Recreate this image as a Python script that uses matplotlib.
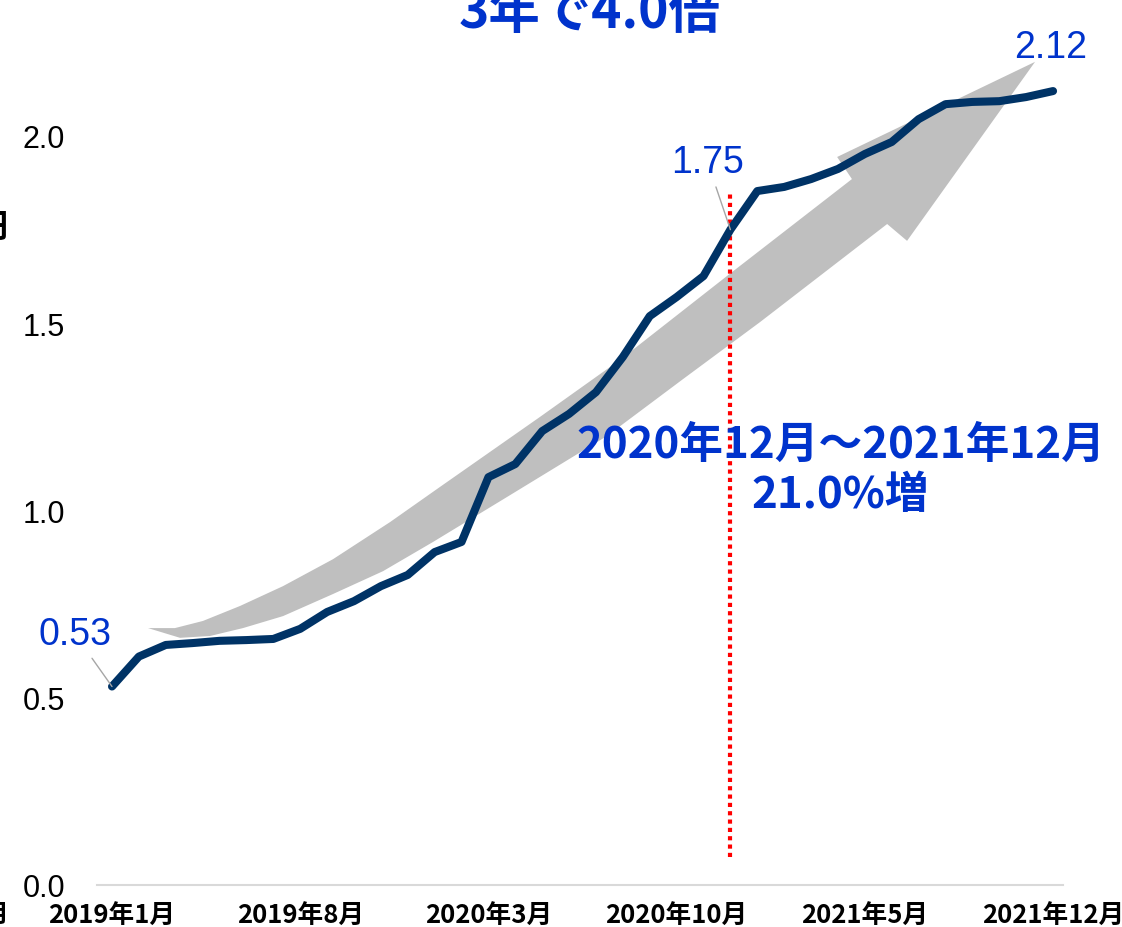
import matplotlib.pyplot as plt
from matplotlib.patches import Polygon

# monthly values, 2019-01 .. 2021-12
months = list(range(36))
values = [0.53, 0.61, 0.641, 0.646, 0.652, 0.654, 0.657, 0.684, 0.729, 0.758,
          0.798, 0.828, 0.889, 0.916, 1.089, 1.124, 1.212, 1.258, 1.316, 1.41,
          1.519, 1.57, 1.626, 1.75, 1.853, 1.864, 1.885, 1.912, 1.952, 1.984,
          2.045, 2.085, 2.091, 2.093, 2.104, 2.12]
tick_pos = [0, 7, 14, 21, 28, 35]
tick_labels = ['2019年1月', '2019年8月', '2020年3月', '2020年10月', '2021年5月', '2021年12月']
yticks = [0.0, 0.5, 1.0, 1.5, 2.0]
mark_month = 23  # 2020年12月

# decorative trend arrow outline (month, value)
arrow_upper = [(1.34, 0.686), (2.34, 0.686), (3.38, 0.705), (4.76, 0.745), (6.36, 0.798),
               (8.22, 0.870), (10.34, 0.969), (12.20, 1.063), (15.92, 1.250),
               (18.89, 1.402), (22.87, 1.626), (27.52, 1.885)]
arrow_head = [(26.97, 1.944), (34.33, 2.198), (29.57, 1.720), (28.83, 1.765)]
arrow_lower = [(24.10, 1.503), (21.24, 1.351), (18.41, 1.199), (14.69, 1.036),
               (11.94, 0.916), (10.08, 0.838), (8.22, 0.777), (6.36, 0.718),
               (4.87, 0.686), (3.65, 0.665), (2.53, 0.660)]

blue = '#0033cc'
navy = '#003366'
jp = ['Noto Sans CJK JP', 'DejaVu Sans']
num = ['Liberation Sans', 'DejaVu Sans']

fig = plt.figure(figsize=(11.22, 9.28), dpi=100)
W, H = 1122, 928
ax = fig.add_axes([97 / W, (H - 886) / H, (1063 - 97) / W, (886 - 25) / H])

ax.add_patch(Polygon(arrow_upper + arrow_head + arrow_lower, closed=True,
                     facecolor='#bfbfbf', edgecolor='none', zorder=1))

ax.plot(months, values, color=navy, lw=5.8, solid_capstyle='round',
        solid_joinstyle='round', zorder=3)

ax.plot([mark_month, mark_month], [0.075, 1.845], color='red', lw=3.0,
        linestyle=(0, (1, 1)), zorder=2)

# data labels with leader lines
ax.annotate('0.53', xy=(months[0], values[0]), xytext=(-1.38, 0.67),
            ha='center', va='center', fontsize=27, color=blue, family=num,
            arrowprops=dict(arrowstyle='-', color='#a6a6a6', lw=1, shrinkA=3, shrinkB=0),
            zorder=4)
ax.annotate('1.75', xy=(months[23], values[23]), xytext=(22.15, 1.93),
            ha='center', va='center', fontsize=27, color=blue, family=num,
            arrowprops=dict(arrowstyle='-', color='#a6a6a6', lw=1, shrinkA=3, shrinkB=0),
            zorder=4)
ax.text(34.9, 2.237, '2.12', ha='center', va='center', fontsize=27,
        color=blue, family=num, zorder=4)

ax.text(27.1, 1.178, '2020年12月～2021年12月', ha='center', va='center',
        fontsize=31.5, fontweight='bold', color=blue, family=jp, zorder=4)
ax.text(27.1, 1.044, '21.0%増', ha='center', va='center',
        fontsize=31.5, fontweight='bold', color=blue, family=jp, zorder=4)

ax.set_xlim(-0.558, 35.37)
ax.set_ylim(0, (886 - 25) / 374.5)
ax.set_xticks(tick_pos)
ax.set_xticklabels(tick_labels, fontsize=18.5, fontweight='bold', family=jp)
ax.set_yticks(yticks)
ax.set_yticklabels([f'{v:.1f}' for v in yticks], fontsize=22, family=num)
ax.tick_params(axis='both', length=0)
ax.tick_params(axis='y', pad=23)
ax.tick_params(axis='x', pad=12)

for s in ['top', 'right', 'left']:
    ax.spines[s].set_visible(False)
ax.spines['bottom'].set_color('#d9d9d9')
ax.spines['bottom'].set_linewidth(1.5)

# title and axis-unit text partly outside the crop
fig.text(590 / W, (H - 28) / H, '3年で4.0倍', ha='center', va='baseline',
         fontsize=37, fontweight='bold', color=blue, family=jp)
fig.text(8 / W, (H - 228) / H, '円', ha='right', va='center',
         fontsize=24, fontweight='bold', color='black', family=jp)
fig.text(8 / W, (H - 915) / H, '月', ha='right', va='center',
         fontsize=18, fontweight='bold', color='black', family=jp)

fig.savefig('out.png', dpi=100, facecolor='white')
